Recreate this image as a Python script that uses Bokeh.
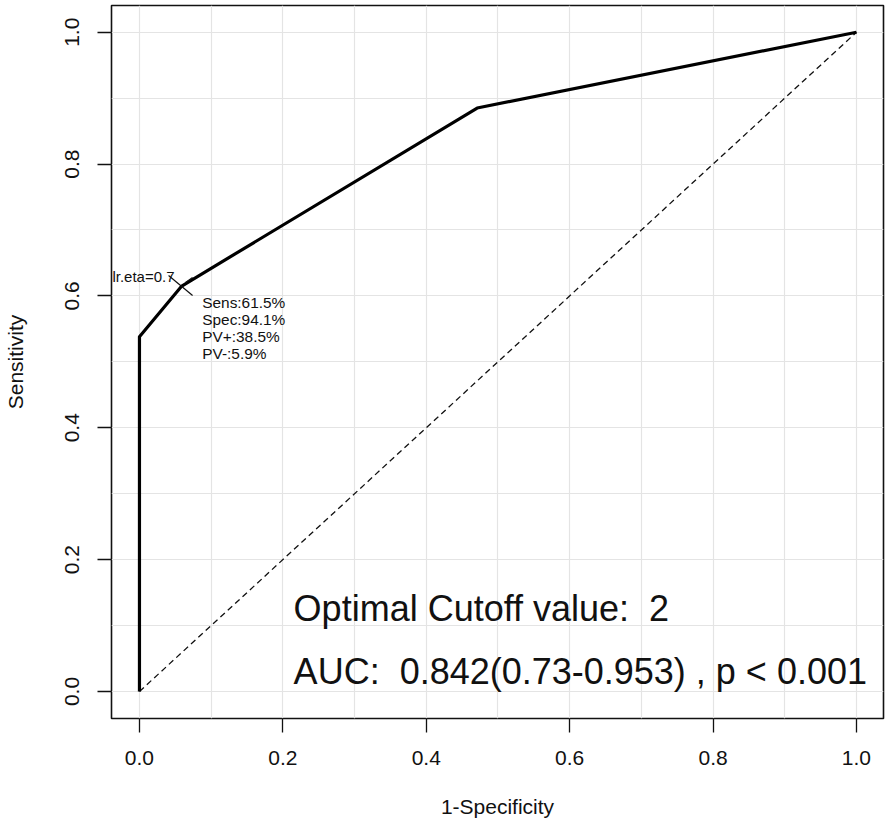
import numpy as np
from bokeh.plotting import figure
from bokeh.models import FixedTicker, ColumnDataSource
from bokeh.embed import file_html
from bokeh.resources import INLINE
from bokeh.core.properties import value

# ---- data ----
fpr = [0.0, 0.0, 0.059, 0.471, 1.0]          # 1-Specificity
tpr = [0.0, 0.538, 0.615, 0.885, 1.0]        # Sensitivity
ref_x = [0.0, 1.0]
ref_y = [0.0, 1.0]
cut_index = 2
cut_label = "lr.eta=0.7"
stats_labels = ["Sens:61.5%", "Spec:94.1%", "PV+:38.5%", "PV-:5.9%"]
cutoff_text = "Optimal Cutoff value: \u00a02"
auc_text = "AUC: \u00a00.842(0.73-0.953) , p < 0.001"
tick_values = [0.0, 0.2, 0.4, 0.6, 0.8, 1.0]
tick_labels = ["0.0", "0.2", "0.4", "0.6", "0.8", "1.0"]
grid_values = [0.0, 0.1, 0.2, 0.3, 0.4, 0.5, 0.6, 0.7, 0.8, 0.9, 1.0]

FONT = "Liberation Sans"

# pixel -> data conversion (frame scale)
PX_X = 717.0
PX_Y = 659.3

p = figure(width=886, height=821,
           x_range=(-0.039, 1.0377), y_range=(-0.041, 1.0405),
           output_backend="svg", toolbar_location=None,
           min_border_left=111, min_border_right=3,
           min_border_top=5, min_border_bottom=103)

p.background_fill_color = "white"
p.border_fill_color = "white"
p.outline_line_color = "#111111"
p.outline_line_width = 1.6

for ax in (p.xaxis[0], p.yaxis[0]):
    ax.ticker = FixedTicker(ticks=tick_values)
    ax.major_label_overrides = {v: s for v, s in zip(tick_values, tick_labels)}
    ax.major_tick_in = 0
    ax.major_tick_out = 14
    ax.major_tick_line_color = "#111111"
    ax.major_tick_line_width = 1.3
    ax.minor_tick_line_color = None
    ax.axis_line_color = None
    ax.major_label_text_font = FONT
    ax.major_label_text_font_size = "21px"
    ax.major_label_text_color = "#111111"
    ax.axis_label_text_font = FONT
    ax.axis_label_text_font_size = "21px"
    ax.axis_label_text_font_style = "normal"
    ax.axis_label_text_color = "#111111"

p.xaxis.axis_label = "1-Specificity"
p.yaxis.axis_label = "Sensitivity"
p.xaxis.major_label_standoff = 18
p.xaxis.axis_label_standoff = 27
p.yaxis.major_label_orientation = "vertical"
p.yaxis.major_label_standoff = 18
p.yaxis.axis_label_standoff = 36

p.xgrid.ticker = FixedTicker(ticks=grid_values)
p.ygrid.ticker = FixedTicker(ticks=grid_values)
for g in (p.xgrid[0], p.ygrid[0]):
    g.grid_line_color = "#e4e4e4"
    g.grid_line_width = 1.2

# diagonal reference
p.line(ref_x, ref_y, line_color="#111111", line_width=1.3, line_dash="6 4")

# ROC curve
p.line(fpr, tpr, line_color="#000000", line_width=3.2, line_join="round")

# optimal cutoff annotation
cx, cy = fpr[cut_index], tpr[cut_index]
p.segment(x0=[cx - 13.2 / PX_X, cx + 3.8 / PX_X],
          y0=[cy + 10.5 / PX_Y, cy + 3.5 / PX_Y],
          x1=[cx + 10.8 / PX_X, cx + 10.8 / PX_X],
          y1=[cy - 9.5 / PX_Y, cy + 8.5 / PX_Y],
          line_color="#111111", line_width=1.2)

p.text(x=[cx - 7.2 / PX_X], y=[cy + 9.5 / PX_Y], text=[cut_label],
       text_font=value(FONT), text_font_size="15px", text_color="#111111",
       text_align="right", text_baseline="alphabetic")

offs = [16.2, 33.2, 50.4, 67.6]
src = ColumnDataSource(dict(
    x=[cx + 20.5 / PX_X] * len(stats_labels),
    y=[cy - o / PX_Y for o in offs],
    t=stats_labels))
p.text(x="x", y="y", text="t", source=src,
       text_font=value(FONT), text_font_size="15.4px", text_color="#111111",
       text_align="left", text_baseline="alphabetic")

# summary texts
p.text(x=[0.215, 0.215], y=[0.126, 0.0296], text=[cutoff_text, auc_text],
       text_font=value(FONT), text_font_size="36px", text_color="#111111",
       text_align="left", text_baseline="alphabetic")

open("out.html", "w").write(file_html(p, INLINE))
